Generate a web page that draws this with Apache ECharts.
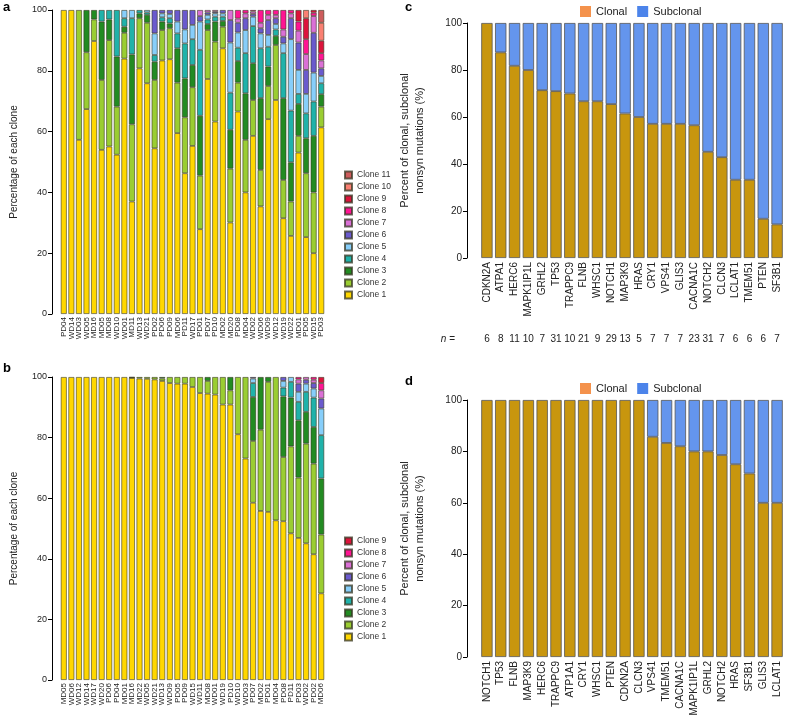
<!DOCTYPE html>
<html><head><meta charset="utf-8">
<script src="https://cdn.jsdelivr.net/npm/echarts@6/dist/echarts.min.js"></script>
<style>html,body{margin:0;padding:0;background:#fff}#c{width:789px;height:727px}</style>
</head><body><div id="c"></div><script>
// ---------- Panel a ----------
const aSamples = ['PD04','WD14','WD03','WD05','MD16','MD05','MD08','WD10','WD01','MD11','WD13','WD21','PD02','PD06','PD09','MD06','PD11','WD17','PD01','PD07','PD10','MD02','MD20','PD08','MD04','WD02','WD06','WD09','WD12','WD19','WD22','MD01','PD05','WD15','PD03'];
// per-sample clone percentages (Clone 1, Clone 2, ...)
const aComposition = [
  [100],[100],[57.3,42.7],[67.4,18.7,13.9],[89.8,7.1,3.1],[54,23,19.2,3.8],[55.1,35,6.8,3.1],
  [52.4,15.8,16.5,15.3],[84,8.5,2,2.8,2.7],[37,25.4,23,11.9,2.7],[80.8,16.5,1.6,1.1],
  [75.9,19.9,2.6,0.8,0.8],[54.5,22.5,6,2.2,7.1,7.7],[83.4,10,2.8,1.4,1.3,1.1],
  [83.8,10.2,1.6,1.7,1.4,1.3],[59.5,16.6,11.3,4.9,3.9,3.8],[46.3,18.4,12.8,11.5,4.6,6.4],
  [55.3,19.3,7.3,8.5,4.7,4.9],[27.9,17.6,19.7,21.7,9.3,1.8,2.0],[77.3,16.1,2.0,1.5,1.5,0.8,0.8],
  [63.3,26.3,6.6,1.6,1.1,0.5,0.6],[87.4,7.1,1.9,1.4,1.1,1.1],[30.1,17.7,12.8,12.2,16.5,7.4,3.3],
  [66.6,9.5,7.1,4.4,5,3.2,1.4,2.8],[40,17.3,15.3,13.2,7.6,3.9,1.6,1.1],
  [58.6,11.8,12.1,12.2,3.1,0.9,0.8,0.5],[35.4,12,23.6,16.4,4.9,1.7,1.8,4.2],
  [64.1,10.9,6.4,6.5,3.9,4.9,1.7,1.6],[70.4,18.1,3,2.1,1.8,1.9,1.1,1.6],
  [31.5,12.6,26.9,14.8,3.2,2.2,2.4,6.4],[25.7,11.3,12.9,17,23.5,6.9,1.6,1.1],
  [53.1,5.5,10.5,3.3,7.9,9,3.9,3,3.8],[25.3,21,11.5,8.2,6.4,7.9,5.2,4.9,6.9,2.7],
  [20,20,18.6,11.3,9.5,13.1,5.5,1.1,0.9],[61.4,6.8,4.1,3.6,2.4,2.5,2.6,2.4,4.1,5.9,4.2]
];
// ---------- Panel b ----------
const bSamples = ['MD05','WD06','WD12','WD14','WD17','WD20','PD06','PD04','MD01','MD16','MD22','WD05','WD21','WD13','WD09','PD05','PD09','WD15','WD11','MD08','WD01','WD19','PD10','WD10','WD03','PD07','MD02','PD01','MD04','PD08','PD11','PD03','WD02','PD02','MD06'];
const bComposition = [
  [100],[100],[100],[100],[100],[100],[100],[100],[100],
  [99.7,0.1,0.2],[99.5,0.5],[99.4,0.6],[99.2,0.8],[98.7,0.8,0.5],[98,2],[97.8,2.2],[97.8,2.2],
  [96.7,3.3],[94.7,5.3],[94.5,4.2,1.3],[94.2,5.8],[90.9,9.1],[90.9,4.7,4.4],[81.1,18.9],[73.1,26.9],
  [58.5,20.4,14.5,4.6,1.5,0.5],[55.8,26.8,17.4],[55.5,42.9,1.6],[52.7,47.3],
  [52.4,21.2,20,2.9,2.2,1.3],[48.4,28.7,16.1,5.2,1.6],[46.9,19.9,18.9,6.1,3.3,2.7,1.4,0.8],
  [45.1,32.9,10.5,6.6,2.7,1.3,0.9],[41.5,29.9,12.1,9.7,3,1.8,1.1,0.9],
  [28.6,19.4,18.5,14.3,8.8,3.3,2.7,2.4,2.0]
];
const cloneNames = ['Clone 1','Clone 2','Clone 3','Clone 4','Clone 5','Clone 6','Clone 7','Clone 8','Clone 9','Clone 10','Clone 11'];
const cloneColors = ['#FFD700','#9ACD32','#228B22','#20B2AA','#87CEFA','#6A5ACD','#DA70D6','#FF1493','#DC143C','#FA8072','#CD5C5C'];
// ---------- Panel c ----------
const cGenes = ['CDKN2A','ATPA1','HERC6','MAPK1IP1L','GRHL2','TP53','TRAPPC9','FLNB','WHSC1','NOTCH1','MAP3K9','HRAS','CRY1','VPS41','GLIS3','CACNA1C','NOTCH2','CLCN3','LCLAT1','TMEM51','PTEN','SF3B1'];
const cClonal = [100,87.5,81.8,80,71.4,71,70,66.7,66.7,65.5,61.5,60,57.1,57.1,57.1,56.5,45.2,42.9,33.3,33.3,16.7,14.3];
const cSubclonal = [0,12.5,18.2,20,28.6,29,30,33.3,33.3,34.5,38.5,40,42.9,42.9,42.9,43.5,54.8,57.1,66.7,66.7,83.3,85.7];
const cN = ['6','8','11','10','7','31','10','21','9','29','13','5','7','7','7','23','31','7','6','6','6','7'];
// ---------- Panel d ----------
const dGenes = ['NOTCH1','TP53','FLNB','MAP3K9','HERC6','TRAPPC9','ATP1A1','CRY1','WHSC1','PTEN','CDKN2A','CLCN3','VPS41','TMEM51','CACNA1C','MAPK1IP1L','GRHL2','NOTCH2','HRAS','SF3B1','GLIS3','LCLAT1'];
const dClonal = [100,100,100,100,100,100,100,100,100,100,100,100,85.7,83.3,82,80,80,78.6,75,71.4,60,60];
const dSubclonal = [0,0,0,0,0,0,0,0,0,0,0,0,14.3,16.7,18,20,20,21.4,25,28.6,40,40];

const FONT = '"Liberation Sans", Arial, sans-serif';
const txt = '#222';
const chart = echarts.init(document.getElementById('c'), null, {renderer:'canvas'});

function cloneSeries(comp, nClones, xi, yi, stack){
  const out = [];
  for (let k = 0; k < nClones; k++) {
    out.push({
      type:'bar', name: cloneNames[k], xAxisIndex: xi, yAxisIndex: yi, stack: stack,
      barCategoryGap:'20%',
      itemStyle:{color: cloneColors[k], borderColor:'rgba(55,55,35,0.75)', borderWidth:0.8},
      data: comp.map(r => (r[k] === undefined ? '-' : r[k])),
      emphasis:{disabled:true}
    });
  }
  return out;
}

function yAx(grid, name, gap, offset, fs, nfs){
  return {type:'value', gridIndex:grid, min:0, max:100, interval:20, offset:offset,
    axisLine:{show:true, lineStyle:{color:'#000', width:1}},
    axisTick:{show:true, length:4, lineStyle:{color:'#000'}},
    axisLabel:{fontSize:fs, color:txt, fontFamily:FONT, margin:5},
    splitLine:{show:false},
    name:name, nameLocation:'middle', nameGap:gap, nameRotate:90,
    nameTextStyle:{fontSize:nfs, color:txt, fontFamily:FONT, lineHeight:15}};
}
function catAx(grid, data, fs, margin){
  return {type:'category', gridIndex:grid, data:data,
    axisLine:{show:false}, axisTick:{show:false},
    axisLabel:{rotate:90, fontSize:fs, color:txt, fontFamily:FONT, margin:margin, interval:0}};
}

const cdColors = {clonal:'#C8960E', sub:'#6495ED'};
function cdSeries(clonal, sub, xi, yi, stack){
  return [
    {type:'bar', name:'Clonal', xAxisIndex:xi, yAxisIndex:yi, stack:stack, barCategoryGap:'18%',
     itemStyle:{color:cdColors.clonal, borderColor:'#555', borderWidth:0.8}, data:clonal.map(v=>v===0?'-':v)},
    {type:'bar', name:'Subclonal', xAxisIndex:xi, yAxisIndex:yi, stack:stack, barCategoryGap:'18%',
     itemStyle:{color:cdColors.sub, borderColor:'#555', borderWidth:0.8}, data:sub.map(v=>v===0?'-':v)}
  ];
}
function cdLegend(top){
  return {top:top, left:575, orient:'horizontal', itemWidth:11, itemHeight:11, itemGap:10, icon:'rect',
    textStyle:{fontSize:11, color:txt, fontFamily:FONT},
    data:[{name:'Clonal', itemStyle:{color:'#F4924C', borderWidth:0}},
          {name:'Subclonal', itemStyle:{color:'#4C84EA', borderWidth:0}}]};
}
function cloneLegend(top, n){
  const d = [];
  for (let k = n-1; k >= 0; k--) d.push(cloneNames[k]);
  return {top:top, left:339, orient:'vertical', itemWidth:7, itemHeight:7, itemGap:2, icon:'rect',
    textStyle:{fontSize:8.5, lineHeight:10, color:'#333', fontFamily:FONT}, data:d};
}

const option = {
  animation:false,
  textStyle:{fontFamily:FONT},
  grid:[
    {left:60, right:464, top:10, bottom:413},
    {left:60, right:464, top:377, bottom:47},
    {left:480, right:5, top:23, bottom:469},
    {left:480, right:5, top:400, bottom:70}
  ],
  xAxis:[
    catAx(0, aSamples, 8, 3),
    catAx(1, bSamples, 8, 3),
    catAx(2, cGenes, 10, 4),
    {type:'category', gridIndex:2, data:cN, position:'bottom', offset:76,
     axisLine:{show:false}, axisTick:{show:false},
     axisLabel:{fontSize:10, color:txt, fontFamily:FONT, margin:0, interval:0},
     name:'{i|n} =', nameLocation:'start', nameGap:25,
     nameTextStyle:{verticalAlign:'top', fontSize:10, color:txt, fontFamily:FONT,
       rich:{i:{fontStyle:'italic', fontSize:10, color:txt, fontFamily:FONT}}}},
    catAx(3, dGenes, 10, 4)
  ],
  yAxis:[
    yAx(0, 'Percentage of each clone', 30, 8, 9, 10),
    yAx(1, 'Percentage of each clone', 30, 8, 9, 10),
    yAx(2, 'Percent of clonal, subclonal\nnonsyn mutations (%)', 40, 13, 10, 11),
    yAx(3, 'Percent of clonal, subclonal\nnonsyn mutations (%)', 40, 13, 10, 11)
  ],
  legend:[cloneLegend(165, 11), cloneLegend(531, 9), cdLegend(1), cdLegend(378)],
  graphic:[
    {type:'text', left:3, top:1, style:{text:'a', font:'bold 13px '+FONT, fill:'#000'}},
    {type:'text', left:3, top:362, style:{text:'b', font:'bold 13px '+FONT, fill:'#000'}},
    {type:'text', left:405, top:1, style:{text:'c', font:'bold 13px '+FONT, fill:'#000'}},
    {type:'text', left:405, top:375, style:{text:'d', font:'bold 13px '+FONT, fill:'#000'}}
  ],
  series:[].concat(
    cloneSeries(aComposition, 11, 0, 0, 'a'),
    cloneSeries(bComposition, 9, 1, 1, 'b'),
    cdSeries(cClonal, cSubclonal, 2, 2, 'c'),
    cdSeries(dClonal, dSubclonal, 4, 3, 'd')
  )
};
chart.setOption(option);
</script></body></html>
